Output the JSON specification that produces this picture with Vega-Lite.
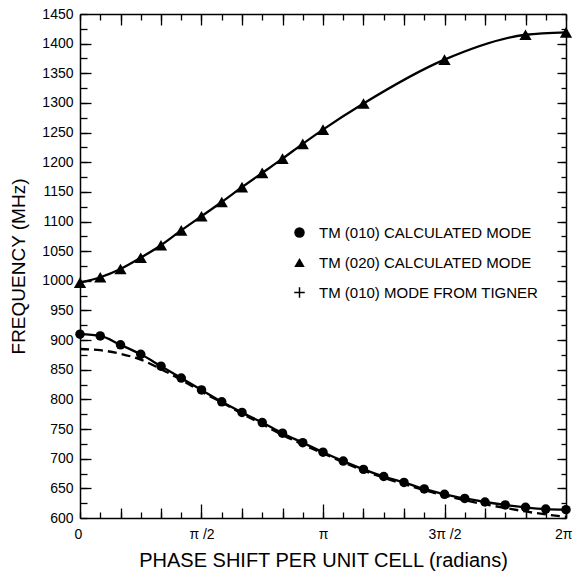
{
  "$schema": "https://vega.github.io/schema/vega-lite/v6.json",
  "width": 486,
  "height": 504,
  "autosize": {"type": "none"},
  "padding": {"left": 80, "top": 14, "right": 7, "bottom": 56},
  "background": "white",
  "config": {
    "view": {"stroke": null},
    "font": "Liberation Sans",
    "axis": {
      "domainColor": "black",
      "domainWidth": 1.5,
      "tickColor": "black",
      "tickWidth": 1.3,
      "labelColor": "black",
      "labelFont": "Liberation Sans",
      "labelFontSize": 14,
      "titleFont": "Liberation Sans",
      "titleFontWeight": "normal",
      "titleColor": "black",
      "grid": false,
      "labelOverlap": false,
      "labelFlush": false
    }
  },
  "datasets": {
    "d": [
      {"s": "010", "x": 0, "f": 910},
      {"s": "010", "x": 0.261799, "f": 907},
      {"s": "010", "x": 0.523599, "f": 892},
      {"s": "010", "x": 0.785398, "f": 876},
      {"s": "010", "x": 1.047198, "f": 856},
      {"s": "010", "x": 1.308997, "f": 836},
      {"s": "010", "x": 1.570796, "f": 816},
      {"s": "010", "x": 1.832596, "f": 796},
      {"s": "010", "x": 2.094395, "f": 778},
      {"s": "010", "x": 2.356194, "f": 761},
      {"s": "010", "x": 2.617994, "f": 743},
      {"s": "010", "x": 2.879793, "f": 727},
      {"s": "010", "x": 3.141593, "f": 711},
      {"s": "010", "x": 3.403392, "f": 696},
      {"s": "010", "x": 3.665191, "f": 682},
      {"s": "010", "x": 3.926991, "f": 670},
      {"s": "010", "x": 4.18879, "f": 660},
      {"s": "010", "x": 4.45059, "f": 649},
      {"s": "010", "x": 4.712389, "f": 640},
      {"s": "010", "x": 4.974188, "f": 633},
      {"s": "010", "x": 5.235988, "f": 627},
      {"s": "010", "x": 5.497787, "f": 622},
      {"s": "010", "x": 5.759587, "f": 618},
      {"s": "010", "x": 6.021386, "f": 615},
      {"s": "010", "x": 6.283185, "f": 614},
      {"s": "020", "x": 0, "f": 997},
      {"s": "020", "x": 0.261799, "f": 1006},
      {"s": "020", "x": 0.523599, "f": 1020},
      {"s": "020", "x": 0.785398, "f": 1039},
      {"s": "020", "x": 1.047198, "f": 1060},
      {"s": "020", "x": 1.308997, "f": 1085},
      {"s": "020", "x": 1.570796, "f": 1109},
      {"s": "020", "x": 1.832596, "f": 1133},
      {"s": "020", "x": 2.094395, "f": 1158},
      {"s": "020", "x": 2.356194, "f": 1182},
      {"s": "020", "x": 2.617994, "f": 1206},
      {"s": "020", "x": 2.879793, "f": 1231},
      {"s": "020", "x": 3.141593, "f": 1255},
      {"s": "020", "x": 3.665191, "f": 1299},
      {"s": "020", "x": 4.712389, "f": 1373},
      {"s": "020", "x": 5.759587, "f": 1415},
      {"s": "020", "x": 6.283185, "f": 1419},
      {"s": "tigner", "x": 0, "f": 885},
      {"s": "tigner", "x": 0.261799, "f": 883},
      {"s": "tigner", "x": 0.523599, "f": 877},
      {"s": "tigner", "x": 0.785398, "f": 867},
      {"s": "tigner", "x": 1.047198, "f": 851},
      {"s": "tigner", "x": 1.308997, "f": 833},
      {"s": "tigner", "x": 1.570796, "f": 813},
      {"s": "tigner", "x": 1.832596, "f": 795},
      {"s": "tigner", "x": 2.094395, "f": 776},
      {"s": "tigner", "x": 2.356194, "f": 758},
      {"s": "tigner", "x": 2.617994, "f": 740},
      {"s": "tigner", "x": 2.879793, "f": 724},
      {"s": "tigner", "x": 3.141593, "f": 709},
      {"s": "tigner", "x": 3.403392, "f": 694},
      {"s": "tigner", "x": 3.665191, "f": 680},
      {"s": "tigner", "x": 3.926991, "f": 668},
      {"s": "tigner", "x": 4.18879, "f": 657},
      {"s": "tigner", "x": 4.45059, "f": 647},
      {"s": "tigner", "x": 4.712389, "f": 638},
      {"s": "tigner", "x": 4.974188, "f": 630},
      {"s": "tigner", "x": 5.235988, "f": 623},
      {"s": "tigner", "x": 5.497787, "f": 617},
      {"s": "tigner", "x": 5.759587, "f": 611},
      {"s": "tigner", "x": 6.021386, "f": 606},
      {"s": "tigner", "x": 6.283185, "f": 602}
    ]
  },
  "data": {"name": "d"},
  "layer": [
    {
      "transform": [{"filter": "datum.s === '010'"}],
      "mark": {"type": "line", "interpolate": "monotone", "color": "black", "strokeWidth": 2.3},
      "encoding": {
        "x": {
          "field": "x", "type": "quantitative",
          "scale": {"domain": [0, 6.283185], "nice": false, "zero": false},
          "axis": {
            "orient": "bottom",
            "values": [0, 0.261799, 0.523599, 0.785398, 1.047198, 1.308997, 1.570796, 1.832596, 2.094395, 2.356194, 2.617994, 2.879793, 3.141593, 3.403392, 3.665191, 3.926991, 4.18879, 4.45059, 4.712389, 4.974188, 5.235988, 5.497787, 5.759587, 6.021386, 6.283185],
            "labelExpr": "datum.value < 0.01 ? '0' : abs(datum.value-PI/2)<0.01 ? 'π /2' : abs(datum.value-PI)<0.01 ? 'π' : abs(datum.value-3*PI/2)<0.01 ? '3π /2' : abs(datum.value-2*PI)<0.01 ? '2π' : ''",
            "tickSize": -6,
            "labelPadding": 15,
            "labelFlush": true,
            "labelFlushOffset": 6,
            "title": "PHASE SHIFT PER UNIT CELL (radians)",
            "titleFontSize": 20,
            "titlePadding": 9
          }
        },
        "y": {
          "field": "f", "type": "quantitative",
          "scale": {"domain": [600, 1450], "nice": false, "zero": false},
          "axis": {
            "orient": "left",
            "values": [600, 625, 650, 675, 700, 725, 750, 775, 800, 825, 850, 875, 900, 925, 950, 975, 1000, 1025, 1050, 1075, 1100, 1125, 1150, 1175, 1200, 1225, 1250, 1275, 1300, 1325, 1350, 1375, 1400, 1425, 1450],
            "labelExpr": "datum.value % 50 === 0 ? '' + datum.value : ''",
            "tickSize": -7,
            "labelPadding": 14,
            "title": "FREQUENCY (MHz)",
            "titleFontSize": 19,
            "titlePadding": 13
          }
        }
      }
    },
    {
      "transform": [{"filter": "datum.s === '020'"}],
      "mark": {"type": "line", "interpolate": "monotone", "color": "black", "strokeWidth": 2.3},
      "encoding": {
        "x": {
          "field": "x", "type": "quantitative",
          "scale": {"domain": [0, 6.283185], "nice": false, "zero": false},
          "axis": {
            "orient": "bottom",
            "values": [0.523599, 1.047198, 2.094395, 2.617994, 3.665191, 4.18879, 5.235988, 5.759587],
            "labels": false, "domain": false, "title": null,
            "tickSize": -10
          }
        },
        "y": {
          "field": "f", "type": "quantitative",
          "scale": {"domain": [600, 1450], "nice": false, "zero": false},
          "axis": {
            "orient": "left",
            "values": [650, 700, 750, 800, 850, 900, 950, 1000, 1050, 1100, 1150, 1200, 1250, 1300, 1350, 1400],
            "labels": false, "domain": false, "title": null,
            "tickSize": -11
          }
        }
      }
    },
    {
      "transform": [{"filter": "datum.s === 'tigner'"}],
      "mark": {"type": "line", "interpolate": "monotone", "color": "black", "strokeWidth": 2.3, "strokeDash": [9, 5]},
      "encoding": {
        "x": {
          "field": "x", "type": "quantitative",
          "scale": {"domain": [0, 6.283185], "nice": false, "zero": false},
          "axis": {
            "orient": "bottom",
            "values": [1.570796, 3.141593, 4.712389],
            "labels": false, "domain": false, "title": null,
            "tickSize": -14
          }
        },
        "y": {
          "field": "f", "type": "quantitative",
          "scale": {"domain": [600, 1450], "nice": false, "zero": false},
          "axis": {
            "orient": "right",
            "values": [600, 625, 650, 675, 700, 725, 750, 775, 800, 825, 850, 875, 900, 925, 950, 975, 1000, 1025, 1050, 1075, 1100, 1125, 1150, 1175, 1200, 1225, 1250, 1275, 1300, 1325, 1350, 1375, 1400, 1425, 1450],
            "labels": false, "title": null,
            "tickSize": -5
          }
        }
      }
    },
    {
      "transform": [{"filter": "datum.s === '010'"}],
      "mark": {"type": "point", "filled": true, "color": "black", "opacity": 1, "size": 90},
      "encoding": {
        "x": {
          "field": "x", "type": "quantitative",
          "scale": {"domain": [0, 6.283185], "nice": false, "zero": false},
          "axis": {
            "orient": "top",
            "values": [0, 0.261799, 0.523599, 0.785398, 1.047198, 1.308997, 1.570796, 1.832596, 2.094395, 2.356194, 2.617994, 2.879793, 3.141593, 3.403392, 3.665191, 3.926991, 4.18879, 4.45059, 4.712389, 4.974188, 5.235988, 5.497787, 5.759587, 6.021386, 6.283185],
            "labels": false, "title": null,
            "tickSize": -6
          }
        },
        "y": {
          "field": "f", "type": "quantitative",
          "scale": {"domain": [600, 1450], "nice": false, "zero": false},
          "axis": {
            "orient": "right",
            "values": [650, 700, 750, 800, 850, 900, 950, 1000, 1050, 1100, 1150, 1200, 1250, 1300, 1350, 1400],
            "labels": false, "domain": false, "title": null,
            "tickSize": -9
          }
        },
        "shape": {
          "field": "s", "type": "nominal",
          "scale": {"domain": ["010", "020", "tigner"], "range": ["circle", "triangle-up", "M-1,-0.14H-0.14V-1H0.14V-0.14H1V0.14H0.14V1H-0.14V0.14H-1Z"]},
          "legend": {
            "orient": "none",
            "legendX": 212,
            "legendY": 211,
            "title": null,
            "padding": 0,
            "labelFont": "Liberation Sans",
            "labelFontSize": 15,
            "labelColor": "black",
            "labelLimit": 400,
            "labelOffset": 12,
            "rowPadding": 13,
            "symbolSize": 110,
            "symbolFillColor": "black",
            "labelExpr": "datum.label === '010' ? 'TM (010) CALCULATED MODE' : datum.label === '020' ? 'TM (020) CALCULATED MODE' : 'TM (010) MODE FROM TIGNER'",
            "encode": {"symbols": {"update": {"fill": {"value": "black"}, "opacity": {"value": 1}, "fillOpacity": {"value": 1}}}}
          }
        }
      }
    },
    {
      "transform": [{"filter": "datum.s === '020'"}],
      "mark": {"type": "point", "filled": true, "color": "black", "opacity": 1, "size": 150},
      "encoding": {
        "x": {
          "field": "x", "type": "quantitative",
          "scale": {"domain": [0, 6.283185], "nice": false, "zero": false},
          "axis": {
            "orient": "top",
            "values": [0.523599, 1.047198, 1.570796, 2.094395, 2.617994, 3.141593, 3.665191, 4.18879, 4.712389, 5.235988, 5.759587],
            "labels": false, "domain": false, "title": null,
            "tickSize": -11
          }
        },
        "y": {
          "field": "f", "type": "quantitative",
          "scale": {"domain": [600, 1450], "nice": false, "zero": false},
          "axis": null
        },
        "shape": {
          "field": "s", "type": "nominal",
          "scale": {"domain": ["010", "020", "tigner"], "range": ["circle", "triangle-up", "M-1,-0.14H-0.14V-1H0.14V-0.14H1V0.14H0.14V1H-0.14V0.14H-1Z"]},
          "legend": {
            "orient": "none",
            "legendX": 212,
            "legendY": 211,
            "title": null,
            "padding": 0,
            "labelFont": "Liberation Sans",
            "labelFontSize": 15,
            "labelColor": "black",
            "labelLimit": 400,
            "labelOffset": 12,
            "rowPadding": 13,
            "symbolSize": 110,
            "symbolFillColor": "black",
            "labelExpr": "datum.label === '010' ? 'TM (010) CALCULATED MODE' : datum.label === '020' ? 'TM (020) CALCULATED MODE' : 'TM (010) MODE FROM TIGNER'",
            "encode": {"symbols": {"update": {"fill": {"value": "black"}, "opacity": {"value": 1}, "fillOpacity": {"value": 1}}}}
          }
        }
      }
    }
  ],
  "resolve": {"axis": {"x": "independent", "y": "independent"}}
}
